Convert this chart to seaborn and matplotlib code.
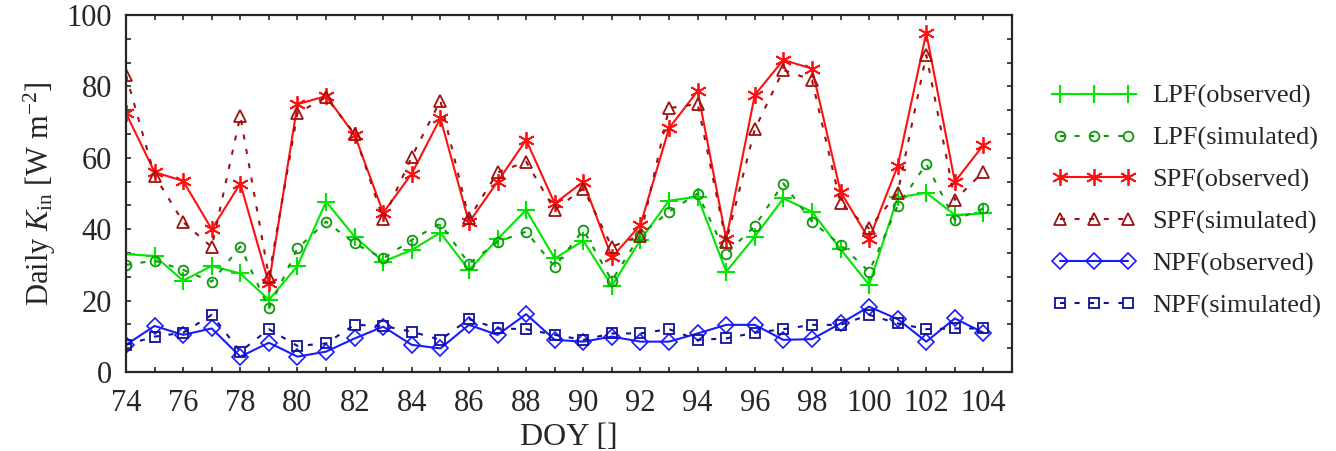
import numpy as np
import pandas as pd
import seaborn as sns
import matplotlib
matplotlib.use("Agg")
import matplotlib.pyplot as plt
from matplotlib.ticker import MultipleLocator, AutoMinorLocator

# Day of year
doy = list(range(74, 105))

# Daily incoming shortwave radiation (W m-2)
lpf_obs = [33, 32.5, 25.6, 29.7, 27.6, 20.2, 29.7, 47.7, 37.9, 30.9, 34.2,
           39.0, 28.6, 37.2, 45.4, 31.8, 36.8, 24.1, 37.0, 48.0, 49.1,
           28.1, 37.9, 48.6, 44.9, 34.4, 24.4, 48.9, 50.2, 44.0, 44.4]
lpf_sim = [30, 31.2, 28.6, 25.3, 35.1, 17.8, 34.6, 42.1, 36.0, 31.8, 37.0,
           41.6, 30.3, 36.5, 39.3, 29.5, 39.8, 25.6, 38.4, 44.9, 50.0,
           33.1, 40.9, 52.8, 42.1, 35.6, 28.1, 46.5, 58.3, 42.6, 45.8]
spf_obs = [72.5, 56.0, 53.5, 40.0, 52.8, 24.8, 75.0, 77.3, 66.4, 44.6, 55.6,
           71.1, 41.9, 53.3, 65.0, 47.2, 53.3, 32.1, 41.2, 68.3, 78.7,
           37.2, 77.6, 87.4, 85.0, 50.5, 37.2, 57.7, 95.0, 53.3, 63.6]
spf_sim = [83.2, 55.0, 42.0, 35.0, 71.7, 26.7, 72.5, 77.0, 66.7, 42.8, 60.3,
           76.0, 43.0, 55.9, 58.9, 45.4, 51.4, 35.1, 38.2, 73.9, 75.1,
           36.5, 68.0, 84.6, 81.8, 47.2, 40.2, 50.2, 88.8, 48.2, 56.1]
npf_obs = [7.6, 12.9, 10.4, 12.2, 4.3, 8.2, 4.3, 5.7, 9.4, 12.7, 7.6,
           6.6, 13.2, 10.4, 16.2, 9.0, 8.5, 9.9, 8.5, 8.5, 10.8,
           13.2, 13.2, 9.0, 9.2, 13.6, 18.3, 14.8, 8.5, 15.0, 11.0]
npf_sim = [7.6, 9.9, 11.0, 16.0, 5.7, 12.0, 7.3, 8.0, 13.2, 12.9, 11.3,
           9.0, 14.8, 12.2, 12.0, 10.4, 9.0, 10.8, 10.8, 12.0, 9.0,
           9.4, 11.0, 12.0, 13.2, 13.2, 16.0, 13.6, 12.0, 12.2, 12.2]

series_names = ["LPF(observed)", "LPF(simulated)", "SPF(observed)",
                "SPF(simulated)", "NPF(observed)", "NPF(simulated)"]
series_values = [lpf_obs, lpf_sim, spf_obs, spf_sim, npf_obs, npf_sim]

df = pd.DataFrame({
    "DOY": np.tile(doy, len(series_names)),
    "Kin": np.concatenate(series_values),
    "series": np.repeat(series_names, len(doy)),
})

sns.set_style("ticks")
plt.rcParams["font.family"] = ["Liberation Serif", "DejaVu Serif"]
plt.rcParams["mathtext.fontset"] = "custom"
plt.rcParams["mathtext.rm"] = "Liberation Serif"
plt.rcParams["mathtext.it"] = "Liberation Serif:italic"

dash = (0, (2.4, 4.6))
styles = {
    "LPF(observed)":  dict(color="#00e600", marker="+", ls="-", ms=13, mew=1.5),
    "LPF(simulated)": dict(color="#0c9a0c", marker="o", ls=dash, ms=7, mew=1.3),
    "SPF(observed)":  dict(color="#ff1010", marker=(6, 2, 0), ls="-", ms=12, mew=1.3),
    "SPF(simulated)": dict(color="#a01010", marker="^", ls=dash, ms=9, mew=1.3),
    "NPF(observed)":  dict(color="#1a1aff", marker="D", ls="-", ms=8, mew=1.2),
    "NPF(simulated)": dict(color="#10109a", marker="s", ls=dash, ms=7, mew=1.3),
}

fig = plt.figure(figsize=(13.36, 4.51), dpi=100)
ax = fig.add_axes([0.0943, 0.1752, 0.6632, 0.7915])

for name in series_names:
    st = styles[name]
    sub = df[df["series"] == name]
    sns.lineplot(data=sub, x="DOY", y="Kin", ax=ax, label=name,
                 color=st["color"], marker=st["marker"], linestyle=st["ls"],
                 markersize=st["ms"], markeredgewidth=st["mew"],
                 markerfacecolor="none", markeredgecolor=st["color"],
                 linewidth=1.5, estimator=None, sort=False)

ax.set_xlim(74, 105)
ax.set_ylim(0, 100)
ax.xaxis.set_major_locator(MultipleLocator(2))
ax.xaxis.set_minor_locator(MultipleLocator(1))
ax.yaxis.set_major_locator(MultipleLocator(20))
ax.yaxis.set_minor_locator(AutoMinorLocator(3))
ax.tick_params(which="both", direction="in", top=True, right=True,
               labelsize=22, width=1.2, length=3.5)
ax.tick_params(axis="x", which="both", pad=12)
ax.tick_params(axis="y", which="both", pad=10)
for sp in ax.spines.values():
    sp.set_linewidth(1.6)

ax.set_xlabel("DOY []", fontsize=23, labelpad=4)
ax.set_ylabel(r"Daily $K_{\rm in}$ [W m$^{-2}$]", fontsize=22, labelpad=6)

leg = ax.legend(loc="upper left", bbox_to_anchor=(1.033, 0.835), frameon=False,
                fontsize=19, numpoints=3, handlelength=3.2, handletextpad=0.6,
                labelspacing=0.68, borderaxespad=0)

fig.savefig("out.png", dpi=100)
